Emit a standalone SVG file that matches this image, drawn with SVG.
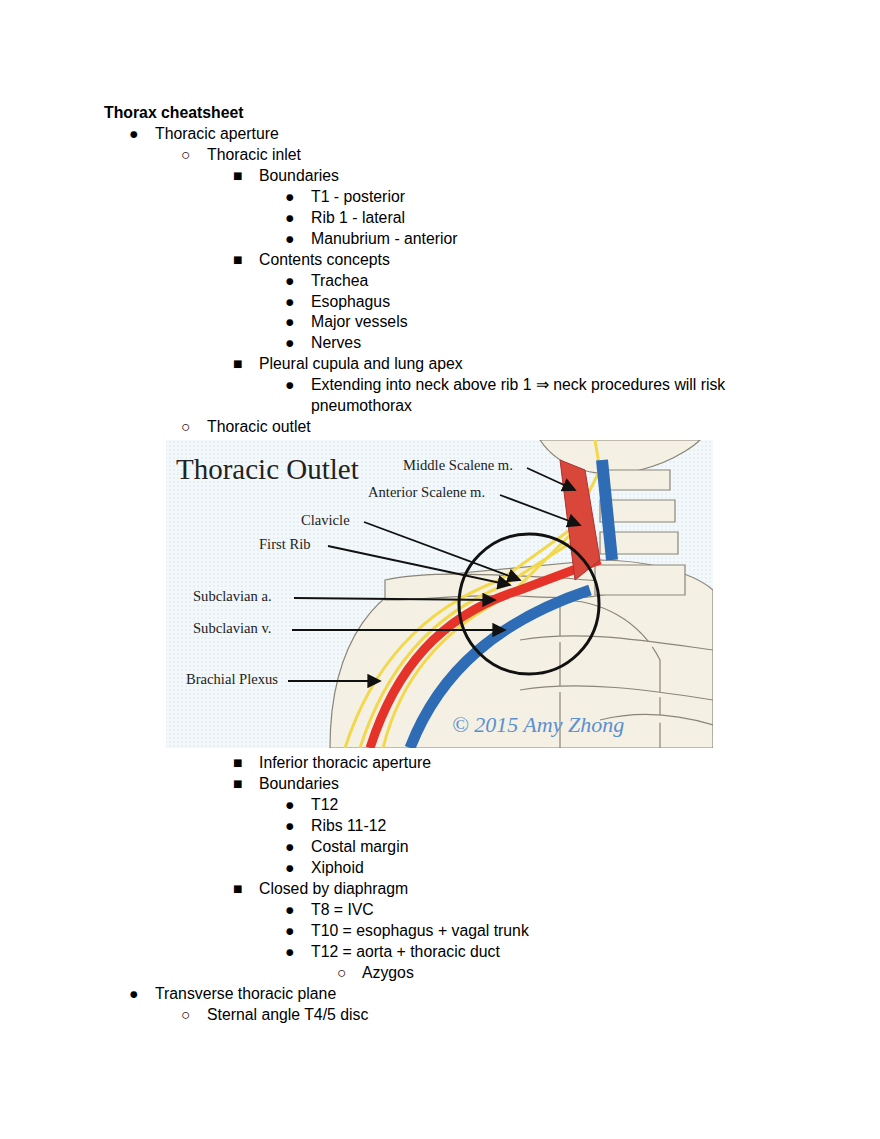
<svg xmlns="http://www.w3.org/2000/svg" width="880" height="1139" viewBox="0 0 880 1139">
<style>
text{font-family:"Liberation Sans",Arial,sans-serif;font-size:15.8px;fill:#000}
.s{font-family:"Liberation Serif","Times New Roman",serif;font-size:14.6px;fill:#222}
.bone{fill:#f4f0e4;stroke:#8a8578;stroke-width:1.2}
.ar{stroke:#111;stroke-width:1.8;fill:none;marker-end:url(#ah)}
</style>
<defs>
<marker id="ah" markerWidth="8" markerHeight="8" refX="7" refY="4" orient="auto"><path d="M0,0 L8,4 L0,8 z" fill="#111"/></marker>
<pattern id="dots" width="4" height="4" patternUnits="userSpaceOnUse"><rect width="4" height="4" fill="#f3f8fb"/><circle cx="2" cy="2" r="0.7" fill="#cfe0ea"/></pattern>
<clipPath id="ic"><rect x="166" y="440" width="547" height="308"/></clipPath>
</defs>
<rect width="880" height="1139" fill="#fff"/>
<g id="text">
<text x="104" y="118" font-weight="bold">Thorax cheatsheet</text>
<text x="129" y="139">●</text><text x="155" y="139">Thoracic aperture</text>
<text x="181" y="160">○</text><text x="207" y="160">Thoracic inlet</text>
<text x="233" y="181">■</text><text x="259" y="181">Boundaries</text>
<text x="285" y="202">●</text><text x="311" y="202">T1 - posterior</text>
<text x="285" y="223">●</text><text x="311" y="223">Rib 1 - lateral</text>
<text x="285" y="244">●</text><text x="311" y="244">Manubrium - anterior</text>
<text x="233" y="265">■</text><text x="259" y="265">Contents concepts</text>
<text x="285" y="286">●</text><text x="311" y="286">Trachea</text>
<text x="285" y="307">●</text><text x="311" y="307">Esophagus</text>
<text x="285" y="327">●</text><text x="311" y="327">Major vessels</text>
<text x="285" y="348">●</text><text x="311" y="348">Nerves</text>
<text x="233" y="369">■</text><text x="259" y="369">Pleural cupula and lung apex</text>
<text x="285" y="390">●</text><text x="311" y="390">Extending into neck above rib 1 ⇒ neck procedures will risk</text>
<text x="311" y="411">pneumothorax</text>
<text x="181" y="432">○</text><text x="207" y="432">Thoracic outlet</text>
<text x="233" y="768">■</text><text x="259" y="768">Inferior thoracic aperture</text>
<text x="233" y="789">■</text><text x="259" y="789">Boundaries</text>
<text x="285" y="810">●</text><text x="311" y="810">T12</text>
<text x="285" y="831">●</text><text x="311" y="831">Ribs 11-12</text>
<text x="285" y="852">●</text><text x="311" y="852">Costal margin</text>
<text x="285" y="873">●</text><text x="311" y="873">Xiphoid</text>
<text x="233" y="894">■</text><text x="259" y="894">Closed by diaphragm</text>
<text x="285" y="915">●</text><text x="311" y="915">T8 = IVC</text>
<text x="285" y="936">●</text><text x="311" y="936">T10 = esophagus + vagal trunk</text>
<text x="285" y="957">●</text><text x="311" y="957">T12 = aorta + thoracic duct</text>
<text x="337" y="978">○</text><text x="362" y="978">Azygos</text>
<text x="129" y="999">●</text><text x="155" y="999">Transverse thoracic plane</text>
<text x="181" y="1020">○</text><text x="207" y="1020">Sternal angle T4/5 disc</text>
</g>
<g id="illustration" clip-path="url(#ic)">
<rect x="166" y="440" width="547" height="308" fill="url(#dots)"/>
<path class="bone" d="M540,440 C560,470 600,480 640,470 C680,460 700,440 700,440 Z"/>
<path class="bone" d="M330,748 C330,640 380,580 440,575 L600,560 C640,560 690,570 713,590 L713,748 Z"/>
<path class="bone" d="M385,580 C430,570 500,575 560,578 C580,578 600,585 610,575 L615,592 C590,600 560,598 520,596 C470,594 420,600 385,600 Z"/>
<path class="bone" d="M600,470 h70 v20 h-70 z M600,500 h75 v22 h-75 z M600,532 h78 v22 h-78 z M595,565 h90 v30 h-90 z"/>
<path class="bone" d="M560,600 C600,600 640,620 660,660 L660,748 L560,748 Z"/>
<path class="bone" fill="none" d="M520,640 C580,630 640,640 713,650 M520,690 C580,680 650,690 713,700 M600,720 C640,710 680,715 713,725"/>
<path d="M345,748 C370,670 420,610 500,580 L570,530 L600,470 L595,440" fill="none" stroke="#f2d84a" stroke-width="3"/>
<path d="M360,748 C385,670 430,615 505,585 L575,540" fill="none" stroke="#f2d84a" stroke-width="3"/>
<path d="M383,748 C400,680 440,630 510,595 L585,520" fill="none" stroke="#f2d84a" stroke-width="3"/>
<path d="M370,748 C395,670 440,615 520,590 L600,560" fill="none" stroke="#e5332a" stroke-width="9"/>
<path d="M410,748 C440,670 500,620 590,590" fill="none" stroke="#2e6db5" stroke-width="11"/>
<path d="M560,460 L585,470 L600,560 L575,580 Z" fill="#d9463a" stroke="#a33" stroke-width="1"/>
<path d="M602,460 L612,560" fill="none" stroke="#2e6db5" stroke-width="12"/>
<circle cx="529" cy="604" r="70" fill="none" stroke="#111" stroke-width="3"/>
<text x="176" y="479" style="font-family:'Liberation Serif',serif;font-size:29px;fill:#222">Thoracic Outlet</text>
<text class="s" x="403" y="470">Middle Scalene m.</text>
<text class="s" x="368" y="497">Anterior Scalene m.</text>
<text class="s" x="301" y="525">Clavicle</text>
<text class="s" x="259" y="549">First Rib</text>
<text class="s" x="193" y="601">Subclavian a.</text>
<text class="s" x="193" y="633">Subclavian v.</text>
<text class="s" x="186" y="684">Brachial Plexus</text>
<path class="ar" d="M527,468 L575,490"/>
<path class="ar" d="M500,495 L580,525"/>
<path class="ar" d="M364,522 L520,580"/>
<path class="ar" d="M328,546 L510,585"/>
<path class="ar" d="M294,598 L495,600"/>
<path class="ar" d="M292,630 L505,630"/>
<path class="ar" d="M288,681 L380,681"/>
<text x="452" y="732" style="font-family:'Liberation Serif',serif;font-size:22px;fill:#5a8fd0;font-style:italic">© 2015 Amy Zhong</text>
</g>
</svg>
